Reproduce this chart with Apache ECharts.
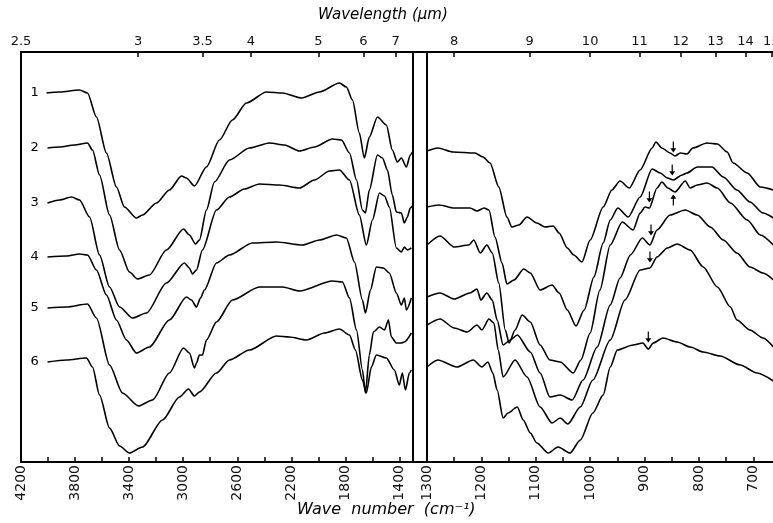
<!DOCTYPE html>
<html>
<head>
<meta charset="utf-8">
<script src="https://cdn.jsdelivr.net/npm/echarts@6/dist/echarts.min.js"></script>
<style>html,body{margin:0;padding:0;background:#fff}#c{width:773px;height:523px}</style>
</head>
<body>
<div id="c"></div>
<script>
// ---- data: [wavenumber cm^-1, offset transmittance (a.u.)] ----
const names = ['1','2','3','4','5','6'];
const left1 = [[4011,369],[3915,370],[3767,372],[3708,369],[3642,345],[3568,309],[3494,275],[3435,255],[3346,244],[3301,247],[3198,259],[3102,272],[3013,286],[2976,284],[2917,276],[2828,295],[2732,322],[2636,342],[2532,359],[2384,370],[2266,369],[2125,364],[1992,370],[1844,379],[1793,375],[1748,362],[1697,329],[1660,304],[1623,325],[1563,345],[1497,337],[1453,312],[1416,300],[1386,304],[1349,295],[1320,307],[1305,310]];
const left2 = [[4004,314],[3915,315],[3804,317],[3708,319],[3671,312],[3619,287],[3545,247],[3471,212],[3398,190],[3338,183],[3250,187],[3124,212],[2998,233],[2954,227],[2909,218],[2880,222],[2828,252],[2769,280],[2658,302],[2510,314],[2362,319],[2251,317],[2140,311],[2029,315],[1896,323],[1829,322],[1770,309],[1718,282],[1674,252],[1652,249],[1623,272],[1563,307],[1526,304],[1489,292],[1453,267],[1423,250],[1386,249],[1364,239],[1342,245],[1320,254],[1305,256]];
const left3 = [[4004,259],[3915,262],[3826,265],[3767,262],[3693,245],[3619,207],[3545,175],[3471,155],[3375,144],[3272,149],[3124,179],[2991,199],[2954,194],[2932,188],[2902,192],[2858,212],[2754,252],[2658,265],[2547,273],[2436,278],[2288,277],[2140,274],[2029,282],[1918,291],[1844,292],[1770,282],[1697,247],[1645,217],[1600,242],[1548,269],[1511,266],[1475,255],[1423,214],[1386,210],[1364,215],[1342,212],[1312,214]];
const left4 = [[4004,205],[3863,206],[3767,208],[3708,207],[3642,192],[3568,167],[3494,142],[3420,122],[3346,109],[3250,115],[3102,142],[2976,165],[2939,162],[2902,155],[2872,164],[2843,172],[2754,199],[2658,207],[2488,219],[2310,220],[2118,217],[1992,222],[1866,227],[1793,224],[1733,200],[1674,162],[1652,149],[1615,172],[1571,195],[1519,194],[1475,189],[1423,169],[1386,157],[1364,164],[1349,152],[1312,164]];
const left5 = [[4004,154],[3863,155],[3708,158],[3642,144],[3545,97],[3449,69],[3331,56],[3227,62],[3102,89],[2998,114],[2954,109],[2917,94],[2902,99],[2880,107],[2858,107],[2828,122],[2754,140],[2636,162],[2436,175],[2266,175],[2140,171],[1896,181],[1822,180],[1770,164],[1718,132],[1674,92],[1652,69],[1623,107],[1593,130],[1548,135],[1511,132],[1482,142],[1460,125],[1423,119],[1386,119],[1364,120],[1312,129]];
const left6 = [[4004,100],[3863,102],[3716,104],[3671,95],[3619,67],[3545,34],[3471,16],[3398,9],[3301,15],[3153,42],[3028,65],[2961,73],[2917,66],[2880,70],[2754,89],[2658,102],[2510,112],[2310,126],[2214,125],[2088,122],[1955,129],[1844,133],[1770,127],[1726,112],[1674,82],[1645,69],[1608,95],[1571,107],[1497,104],[1438,92],[1401,77],[1379,89],[1356,72],[1327,89],[1312,92]];

const right1 = [[1300,311],[1280,314],[1252,310],[1212,309],[1197,305],[1184,299],[1168,275],[1153,245],[1144,235],[1131,237],[1116,245],[1098,239],[1083,235],[1068,236],[1057,229],[1042,214],[1030,207],[1015,200],[1000,222],[976,255],[960,272],[945,281],[928,274],[908,292],[886,314],[879,320],[868,314],[853,309],[844,306],[834,309],[822,308],[811,314],[785,319],[766,318],[748,310],[737,299],[711,289],[687,275],[663,272]];
const right2 = [[1300,255],[1278,257],[1250,254],[1221,254],[1208,251],[1195,254],[1186,252],[1175,225],[1162,199],[1153,178],[1140,182],[1122,193],[1110,189],[1092,172],[1070,177],[1057,169],[1042,152],[1026,136],[1011,152],[993,185],[976,219],[963,242],[949,254],[930,245],[908,265],[886,293],[871,289],[858,284],[847,282],[831,287],[822,289],[803,295],[776,295],[755,285],[730,272],[706,260],[682,249],[663,244]];
const right3 = [[1300,217],[1276,226],[1250,215],[1223,217],[1214,222],[1202,209],[1190,217],[1180,209],[1168,179],[1156,132],[1149,119],[1138,132],[1125,147],[1110,140],[1092,117],[1074,102],[1055,100],[1031,89],[1017,102],[1000,129],[982,172],[963,217],[941,240],[921,232],[908,249],[899,255],[891,254],[877,274],[868,280],[857,274],[844,270],[825,281],[816,274],[803,277],[785,279],[766,274],[742,259],[711,242],[687,227],[663,217]];
const right4 = [[1300,165],[1276,169],[1250,163],[1221,169],[1208,173],[1201,162],[1190,169],[1180,162],[1171,142],[1160,117],[1147,122],[1134,127],[1110,110],[1092,89],[1074,65],[1055,67],[1033,62],[1013,82],[987,115],[963,157],[945,184],[926,207],[904,224],[890,217],[877,232],[853,247],[825,252],[803,247],[779,235],[755,222],[730,209],[706,195],[682,189],[663,182]];
const right5 = [[1300,137],[1276,143],[1250,134],[1226,130],[1208,137],[1199,132],[1186,143],[1177,139],[1169,112],[1160,85],[1138,102],[1116,85],[1092,55],[1070,39],[1055,44],[1041,38],[1018,55],[995,82],[963,122],[936,162],[908,192],[890,194],[877,205],[858,214],[840,218],[816,212],[792,195],[766,175],[742,155],[730,142],[706,132],[682,124],[663,115]];
const right6 = [[1300,95],[1280,102],[1245,95],[1215,102],[1199,95],[1188,100],[1179,89],[1171,72],[1160,44],[1151,49],[1134,55],[1123,42],[1110,29],[1098,19],[1077,9],[1059,15],[1037,9],[1018,22],[995,49],[976,67],[963,95],[950,112],[921,117],[903,119],[893,113],[884,119],[866,124],[840,120],[816,115],[792,110],[761,106],[724,97],[693,89],[663,81]];

// arrows: [curve index, wavenumber, value, direction]
const arrows = [[0,847,315,'down'],[1,849,292,'down'],[2,891,265,'down'],[2,847,262,'up'],[3,888,232,'down'],[4,890,205,'down'],[5,893,125,'down']];

// axis ticks / labels
const leftTicks = [4200,4000,3800,3600,3400,3200,3000,2800,2600,2400,2200,2000,1800,1600,1400];
const leftLabels = [4200,3800,3400,3000,2600,2200,1800,1400];
const rightTicks = [1300,1250,1200,1150,1100,1050,1000,950,900,850,800,750,700];
const rightLabels = [1300,1200,1100,1000,900,800,700];
const umLeft = [3,3.5,4,5,6,7];
const umRight = [8,9,10,11,12,13,14,15];
const umCorner = '2.5';

const LEFT_MIN = 1300, LEFT_MAX = 4200, RIGHT_MIN = 660, RIGHT_MAX = 1300;
const font = 'DejaVu Sans';
const leftSets = [left1,left2,left3,left4,left5,left6];
const rightSets = [right1,right2,right3,right4,right5,right6];

const arrowPath = 'path://M4,0 L6,0 L6,11 L10,11 L5,18 L0,11 L4,11 Z';

function bottomAxis(gi, min, max, ticks, labels){
  return {type:'value', gridIndex:gi, position:'bottom', min:min, max:max, inverse:true,
    splitLine:{show:false},
    axisLine:{show:true, lineStyle:{color:'#000', width:2}},
    axisTick:{show:true, inside:true, length:5, customValues:ticks, lineStyle:{color:'#000', width:1.5}},
    axisLabel:{show:true, customValues:labels, rotate:90, margin:3, fontSize:14, color:'#111', fontFamily:font,
      formatter: v => String(Math.round(v))}
  };
}
function topAxis(gi, min, max, ums, corner){
  const vals = ums.map(u => 10000/u);
  const labelVals = corner ? [max].concat(vals) : vals;
  return {type:'value', gridIndex:gi, position:'top', min:min, max:max, inverse:true,
    splitLine:{show:false},
    axisLine:{show:true, lineStyle:{color:'#000', width:2}},
    axisTick:{show:true, inside:true, length:5, customValues:vals, lineStyle:{color:'#000', width:1.5}},
    axisLabel:{show:true, customValues:labelVals, margin:4, fontSize:13, color:'#111', fontFamily:font,
      formatter: v => (corner && Math.abs(v-max)<1e-6) ? corner : String(Math.round(100000/v)/10)}
  };
}

const series = [];
leftSets.forEach((d,i) => {
  series.push({type:'line', name:names[i], xAxisIndex:0, yAxisIndex:0, data:d, smooth:0.25, smoothMonotone:'x',
    symbol:'none', lineStyle:{color:'#000', width:1.6}, silent:true, animation:false,
    markPoint:{symbol:'circle', symbolSize:1, itemStyle:{color:'rgba(0,0,0,0)'}, animation:false,
      label:{show:true, position:'inside', formatter:names[i], color:'#000', fontSize:13, fontFamily:font},
      data:[{coord:[4100, d[0][1]]}]}
  });
});
rightSets.forEach((d,i) => {
  const arr = arrows.filter(a => a[0]===i).map(a => ({coord:[a[1],a[2]], symbolRotate: a[3]==='up' ? 180 : 0}));
  series.push({type:'line', name:names[i], xAxisIndex:2, yAxisIndex:1, data:d, smooth:0.25, smoothMonotone:'x',
    symbol:'none', lineStyle:{color:'#000', width:1.6}, silent:true, animation:false,
    markPoint:{symbol:arrowPath, symbolSize:[6,11], itemStyle:{color:'#000'}, label:{show:false}, animation:false, data:arr}
  });
});

const chart = echarts.init(document.getElementById('c'), null, {renderer:'canvas'});
chart.setOption({
  animation:false,
  backgroundColor:'#fff',
  grid:[
    {left:21, top:52, width:392, height:410, show:true, borderColor:'#000', borderWidth:2, backgroundColor:'transparent', containLabel:false, outerBoundsMode:'none'},
    {left:427, top:52, width:348, height:410, show:true, borderColor:'#000', borderWidth:2, backgroundColor:'transparent', containLabel:false, outerBoundsMode:'none'}
  ],
  xAxis:[
    bottomAxis(0, LEFT_MIN, LEFT_MAX, leftTicks, leftLabels),
    topAxis(0, LEFT_MIN, LEFT_MAX, umLeft, umCorner),
    bottomAxis(1, RIGHT_MIN, RIGHT_MAX, rightTicks, rightLabels),
    topAxis(1, RIGHT_MIN, RIGHT_MAX, umRight, null)
  ],
  yAxis:[
    {type:'value', gridIndex:0, min:0, max:410, show:false},
    {type:'value', gridIndex:1, min:0, max:410, show:false}
  ],
  series: series,
  graphic:[
    {type:'line', shape:{x1:413, y1:52, x2:427, y2:52}, style:{stroke:'#000', lineWidth:2}},
    {type:'line', shape:{x1:413, y1:462, x2:427, y2:462}, style:{stroke:'#000', lineWidth:2}},
    {type:'text', left:318, top:8, style:{text:'Wavelength (\u03bcm)', font:'italic 15px "DejaVu Sans"', fill:'#000'}},
    {type:'text', left:297, top:502, style:{text:'Wave  number  (cm\u207b\u00b9)', font:'italic 16px "DejaVu Sans"', fill:'#000'}}
  ]
});
</script>
</body>
</html>
